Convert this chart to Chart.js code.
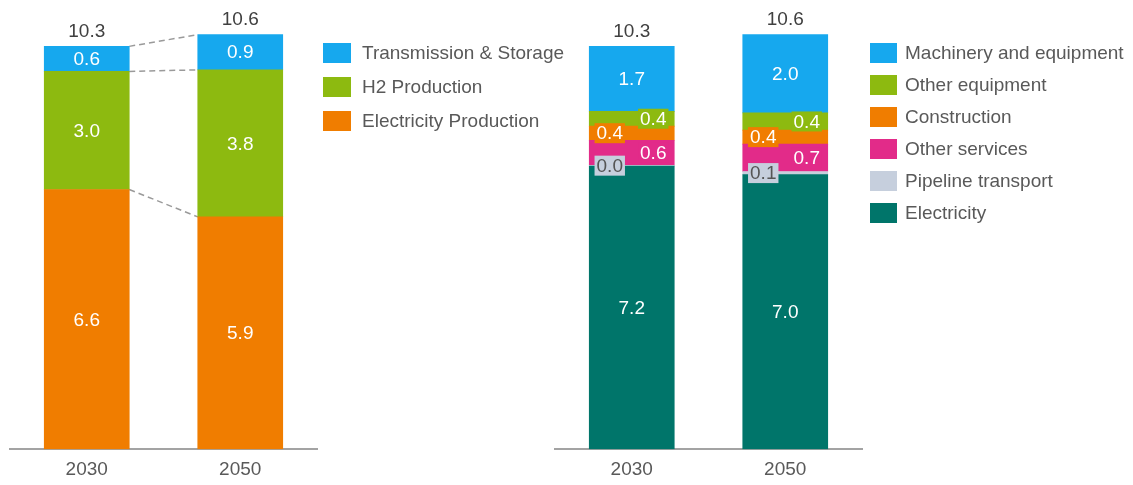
<!DOCTYPE html>
<html><head><meta charset="utf-8">
<script src="https://cdn.jsdelivr.net/npm/chart.js@4.4.0/dist/chart.umd.min.js"></script>
<style>
html,body{margin:0;padding:0;background:#fff;width:1133px;height:485px;overflow:hidden}
#cL{position:absolute;left:0;top:0}
#cR{position:absolute;left:540px;top:0}
</style></head><body>
<canvas id="cL" width="580" height="490"></canvas>
<canvas id="cR" width="593" height="490"></canvas>
<script>
// ---- data ----
const categories = ['2030', '2050'];
// left chart
const electricityProduction = [6.64, 5.94];
const h2Production = [3.02, 3.76];
const transmissionStorage = [0.64, 0.90];
// right chart
const electricity = [7.24, 7.02];
const pipelineTransport = [0.02, 0.08];
const otherServices = [0.64, 0.70];
const construction = [0.36, 0.36];
const otherEquipment = [0.38, 0.44];
const machineryEquipment = [1.66, 2.00];
const yMax = 11;

const FONT = "'Liberation Sans', Arial, sans-serif";
const C = {
  blue: '#16A8EE', green: '#8DBA10', orange: '#F07D00',
  pink: '#E22B89', light: '#C6CFDD', teal: '#00756A'
};

const labelsPlugin = {
  id: 'segLabels',
  afterDatasetsDraw(chart) {
    const ctx = chart.ctx;
    ctx.save();
    ctx.font = '19px ' + FONT;
    ctx.textAlign = 'center';
    ctx.textBaseline = 'middle';
    chart.data.datasets.forEach((ds, i) => {
      const meta = chart.getDatasetMeta(i);
      meta.data.forEach((el, j) => {
        const txt = ds.data[j].toFixed(1);
        let x = el.x;
        if (ds.labelPos === 'right') x += 21.5;
        if (ds.labelPos === 'left') x -= 22;
        const y = (el.y + el.base) / 2 + (ds.labelDy || 0);
        if (ds.labelBg) {
          const w = ctx.measureText(txt).width + 4;
          ctx.fillStyle = ds.labelBg;
          ctx.fillRect(x - w / 2, y - 10, w, 20);
        }
        ctx.fillStyle = ds.labelColor || '#ffffff';
        ctx.fillText(txt, x, y + 1);
      });
    });
    // totals
    const last = chart.getDatasetMeta(chart.data.datasets.length - 1);
    ctx.fillStyle = '#404040';
    categories.forEach((c, j) => {
      let tot = 0;
      chart.data.datasets.forEach(ds => tot += ds.data[j]);
      const el = last.data[j];
      ctx.fillText(tot.toFixed(1), el.x, el.y - 15);
    });
    ctx.restore();
  }
};

const connectorPlugin = {
  id: 'connectors',
  beforeDatasetsDraw(chart, args, opts) {
    if (!opts || !opts.enabled) return;
    const ctx = chart.ctx;
    ctx.save();
    ctx.strokeStyle = '#9a9a9a';
    ctx.lineWidth = 1.5;
    ctx.setLineDash([6, 4]);
    chart.data.datasets.forEach((ds, i) => {
      const meta = chart.getDatasetMeta(i);
      const a = meta.data[0], b = meta.data[1];
      ctx.beginPath();
      ctx.moveTo(a.x + a.width / 2, a.y);
      ctx.lineTo(b.x - b.width / 2, b.y);
      ctx.stroke();
    });
    ctx.restore();
  }
};

const legendPlugin = {
  id: 'sideLegend',
  afterDraw(chart, args, opts) {
    const ctx = chart.ctx;
    ctx.save();
    ctx.font = '19px ' + FONT;
    ctx.textAlign = 'left';
    ctx.textBaseline = 'middle';
    const items = chart.data.datasets.slice().reverse();
    items.forEach((ds, k) => {
      const cy = opts.y + k * opts.step;
      ctx.fillStyle = ds.backgroundColor;
      ctx.fillRect(opts.x, cy - 10, opts.boxW, 20);
      ctx.fillStyle = '#595959';
      ctx.fillText(ds.label, opts.textX, cy + 1);
    });
    ctx.restore();
  }
};

function makeOptions(padL, padR, legendOpts, connectors) {
  return {
    responsive: false,
    animation: false,
    layout: { padding: { left: padL, right: padR, top: 19, bottom: 0 } },
    datasets: { bar: { barThickness: 85 } },
    scales: {
      x: {
        stacked: true,
        grid: { display: false, drawTicks: false },
        border: { display: true, color: '#a3a3a3', width: 2 },
        ticks: { color: '#595959', font: { size: 19, family: FONT }, padding: 9 }
      },
      y: { stacked: true, display: false, min: 0, max: yMax }
    },
    plugins: {
      legend: { display: false },
      tooltip: { enabled: false },
      sideLegend: legendOpts,
      connectors: { enabled: connectors }
    }
  };
}

new Chart(document.getElementById('cL'), {
  type: 'bar',
  data: {
    labels: categories,
    datasets: [
      { label: 'Electricity Production', data: electricityProduction, backgroundColor: C.orange, labelPos: 'center' },
      { label: 'H2 Production', data: h2Production, backgroundColor: C.green, labelPos: 'center' },
      { label: 'Transmission & Storage', data: transmissionStorage, backgroundColor: C.blue, labelPos: 'center' }
    ]
  },
  options: makeOptions(10, 263, { x: 323, boxW: 28, textX: 362, y: 53, step: 34 }, true),
  plugins: [connectorPlugin, labelsPlugin, legendPlugin]
});

new Chart(document.getElementById('cR'), {
  type: 'bar',
  data: {
    labels: categories,
    datasets: [
      { label: 'Electricity', data: electricity, backgroundColor: C.teal, labelPos: 'center' },
      { label: 'Pipeline transport', data: pipelineTransport, backgroundColor: C.light, labelPos: 'left', labelBg: C.light, labelColor: '#555555' },
      { label: 'Other services', data: otherServices, backgroundColor: C.pink, labelPos: 'right', labelBg: C.pink },
      { label: 'Construction', data: construction, backgroundColor: C.orange, labelPos: 'left', labelBg: C.orange },
      { label: 'Other equipment', data: otherEquipment, backgroundColor: C.green, labelPos: 'right', labelBg: C.green },
      { label: 'Machinery and equipment', data: machineryEquipment, backgroundColor: C.blue, labelPos: 'center' }
    ]
  },
  options: makeOptions(15, 271, { x: 330, boxW: 27, textX: 365, y: 53, step: 32 }, false),
  plugins: [labelsPlugin, legendPlugin]
});
</script>
</body></html>
